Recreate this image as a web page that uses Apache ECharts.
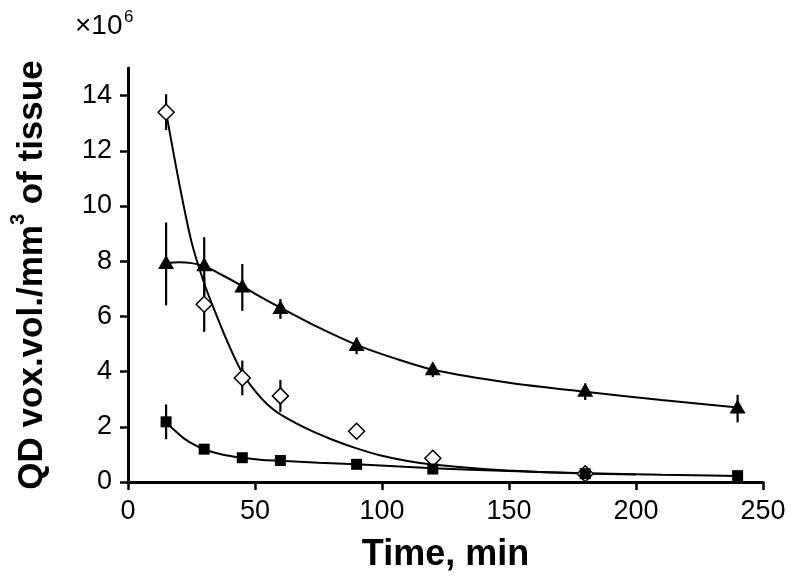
<!DOCTYPE html>
<html>
<head>
<meta charset="utf-8">
<script src="https://cdn.jsdelivr.net/npm/echarts@6/dist/echarts.min.js"></script>
<style>html,body{margin:0;padding:0;background:#fff}#c{width:800px;height:587px}</style>
</head>
<body>
<div id="c"></div>
<script>
// ---- data (values in units of 10^6) ----
const times = [15, 30, 45, 60, 90, 120, 180, 240];

const diamondVals = [13.4, 6.44, 3.77, 3.12, 1.84, 0.86, 0.3, null];
const diamondErr  = [0.65, 1.0, 0.63, 0.58, 0.08, 0.2, 0.1, null];

const triangleVals = [7.9, 7.82, 7.05, 6.27, 4.93, 4.05, 3.27, 2.66];
const triangleErr  = [1.5, 1.05, 0.85, 0.36, 0.3, 0.25, 0.3, 0.5];

const squareVals = [2.18, 1.19, 0.88, 0.78, 0.64, 0.47, 0.3, 0.23];
const squareErr  = [0.63, 0.06, 0.05, 0.05, 0.05, 0.05, 0.05, 0.05];

// fitted curves
const fitDiamondT = [15, 20, 25, 30, 35, 40, 45, 50, 55, 60, 70, 80, 90, 100, 110, 120, 140, 160, 180, 200];
const fitDiamondV = [13.4, 10.9, 8.7, 7.2, 6.0, 4.9, 3.95, 3.3, 2.8, 2.45, 1.95, 1.55, 1.22, 0.95, 0.76, 0.63, 0.47, 0.37, 0.31, 0.27];

const fitTriangleT = [15, 20, 25, 30, 37, 45, 52, 60, 75, 90, 105, 120, 150, 180, 210, 240];
const fitTriangleV = [7.93, 7.96, 7.93, 7.82, 7.5, 7.1, 6.72, 6.32, 5.6, 4.97, 4.48, 4.07, 3.6, 3.27, 2.97, 2.7];

const fitSquareT = [15, 18, 22, 26, 30, 37, 45, 52, 60, 75, 90, 105, 120, 150, 180, 210, 240];
const fitSquareV = [2.18, 1.9, 1.58, 1.35, 1.18, 1.0, 0.88, 0.81, 0.77, 0.7, 0.64, 0.57, 0.5, 0.4, 0.32, 0.26, 0.22];

const xTicks = [0, 50, 100, 150, 200, 250];
const yTicks = [0, 2, 4, 6, 8, 10, 12, 14];

// ---- build ----
const pairs = (xs, ys) => xs.map((x, i) => [x, ys[i]]).filter(p => p[1] != null);
const errData = (vals, errs) => times.map((t, i) => [t, vals[i], errs[i]]).filter(p => p[1] != null);

function errSeries(vals, errs) {
  return {
    type: 'custom',
    z: 3,
    silent: true,
    data: errData(vals, errs),
    renderItem: function (params, api) {
      const t = api.value(0), v = api.value(1), e = api.value(2);
      const p1 = api.coord([t, v - e]);
      const p2 = api.coord([t, v + e]);
      return {
        type: 'line',
        shape: { x1: p1[0], y1: p1[1], x2: p2[0], y2: p2[1] },
        style: { stroke: '#000', lineWidth: 2.2 }
      };
    }
  };
}

function fitSeries(xs, ys) {
  return {
    type: 'line',
    z: 2,
    silent: true,
    data: pairs(xs, ys),
    smooth: 0.3,
    showSymbol: false,
    symbol: 'none',
    lineStyle: { color: '#000', width: 2 }
  };
}

const FONT = 'Liberation Sans, Arial, sans-serif';

const chart = echarts.init(document.getElementById('c'), null, { renderer: 'canvas' });
chart.setOption({
  animation: false,
  backgroundColor: '#fff',
  grid: { left: 127, right: 37, top: 68, bottom: 105, containLabel: false },
  xAxis: {
    type: 'value',
    min: xTicks[0], max: xTicks[xTicks.length - 1], interval: 50,
    name: 'Time, min',
    nameLocation: 'middle',
    nameGap: 55,
    nameTextStyle: { fontFamily: FONT, fontSize: 36, fontWeight: 'bold', color: '#000', lineHeight: 36 },
    axisLine: { lineStyle: { color: '#000', width: 3 } },
    axisTick: { inside: false, length: 8, lineStyle: { color: '#000', width: 2.5 } },
    axisLabel: { fontFamily: FONT, fontSize: 27, color: '#000', margin: 16, lineHeight: 27 },
    splitLine: { show: false }
  },
  yAxis: {
    type: 'value',
    min: 0, max: 15, interval: 2,
    name: '{a|QD vox.vol./mm}{s|3}{a| of tissue}',
    nameLocation: 'middle',
    nameRotate: 90,
    nameGap: 76,
    nameTextStyle: {
      rich: {
        a: { fontFamily: FONT, fontSize: 35, fontWeight: 'bold', color: '#000', lineHeight: 40 },
        s: { fontFamily: FONT, fontSize: 20, fontWeight: 'bold', color: '#000', verticalAlign: 'bottom', lineHeight: 20, padding: [0, 0, 24, 0] }
      }
    },
    axisLine: { lineStyle: { color: '#000', width: 3 } },
    axisTick: { inside: false, length: 8, customValues: yTicks, lineStyle: { color: '#000', width: 2.5 } },
    axisLabel: { fontFamily: FONT, fontSize: 27, color: '#000', margin: 16, customValues: yTicks },
    splitLine: { show: false }
  },
  graphic: [
    {
      type: 'text', left: 75, top: 12, z: 10,
      style: { text: '×10', font: '28px "Liberation Sans", Arial, sans-serif', fill: '#000' }
    },
    {
      type: 'text', left: 124, top: 9, z: 10,
      style: { text: '6', font: '17px "Liberation Sans", Arial, sans-serif', fill: '#000' }
    }
  ],
  series: [
    errSeries(diamondVals, diamondErr),
    errSeries(triangleVals, triangleErr),
    errSeries(squareVals, squareErr),
    fitSeries(fitDiamondT, fitDiamondV),
    fitSeries(fitTriangleT, fitTriangleV),
    fitSeries(fitSquareT, fitSquareV),
    {
      type: 'scatter', z: 5, data: pairs(times, triangleVals),
      symbol: 'triangle', symbolSize: [16, 14], symbolOffset: [0, -2],
      itemStyle: { color: '#000', opacity: 1 }
    },
    {
      type: 'scatter', z: 6, data: pairs(times, diamondVals),
      symbol: 'diamond', symbolSize: 16,
      itemStyle: { color: '#fff', borderColor: '#000', borderWidth: 1.5, opacity: 1 }
    },
    {
      type: 'scatter', z: 7, data: pairs(times, squareVals),
      symbol: 'rect', symbolSize: 11,
      itemStyle: { color: '#000', opacity: 1 }
    }
  ]
});
</script>
</body>
</html>
